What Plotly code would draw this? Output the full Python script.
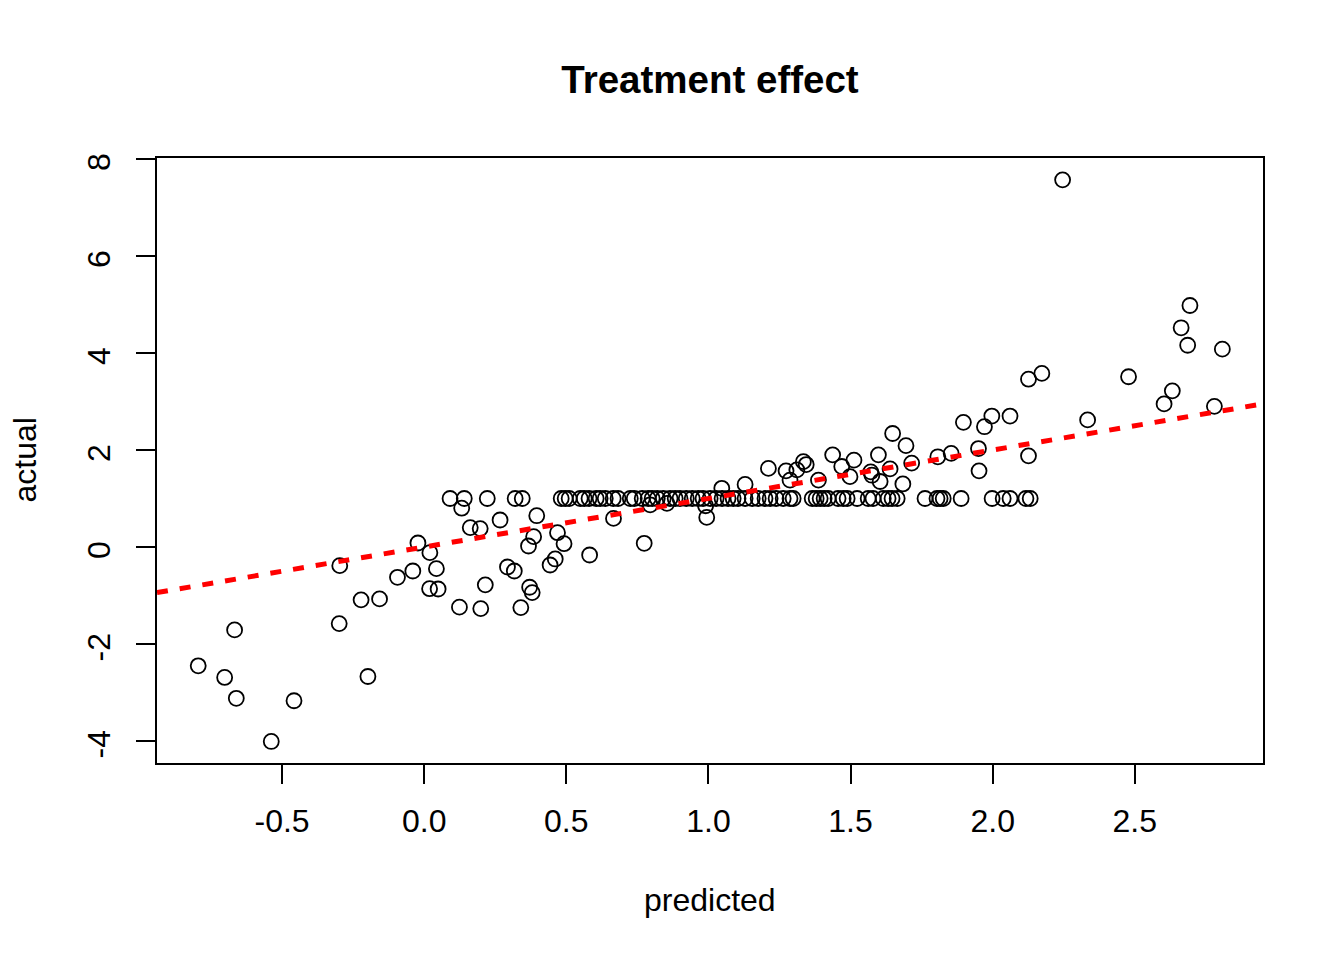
import plotly.graph_objects as go

# Predicted / actual values
predicted = [
    -0.795, -0.667, -0.702, -0.661, -0.538, -0.458, -0.297, -0.299, -0.198, -0.222,
    -0.157, -0.094, -0.040, -0.022, 0.020, 0.043, 0.019, 0.049, 0.132, 0.124,
    0.162, 0.197, 0.267, 0.396, 0.385, 0.367, 0.469, 0.492, 0.461, 0.443,
    0.582, 0.666, 0.774, 0.293, 0.317, 0.215, 0.371, 0.380, 0.199, 0.340,
    0.795, 0.854, 0.994, 0.990, 1.047, 1.129, 1.211, 1.273, 1.287, 1.311,
    1.334, 1.344, 1.387, 1.437, 1.469, 1.512, 1.498, 1.571, 1.575, 1.598,
    1.604, 1.639, 1.648, 1.695, 1.684, 1.715, 1.897, 1.971, 1.997, 2.061,
    1.807, 1.854, 1.950, 1.952, 2.126, 2.334, 2.246, 2.694, 2.663, 2.686,
    2.808, 2.126, 2.173, 2.478, 2.632, 2.603, 2.780,
    # points sitting on actual = 1
    0.091, 0.141, 0.222, 0.320, 0.345,
    0.482, 0.496, 0.510, 0.549, 0.563, 0.580, 0.605, 0.619, 0.637, 0.665,
    0.682, 0.725, 0.739, 0.767, 0.788, 0.802, 0.820, 0.841, 0.865,
    0.883, 0.900, 0.922, 0.943, 0.964, 0.981, 1.006, 1.027, 1.048, 1.069,
    1.087, 1.104, 1.129, 1.154, 1.175, 1.199, 1.217, 1.238, 1.263, 1.287, 1.298,
    1.365, 1.379, 1.393, 1.407, 1.421, 1.456, 1.474, 1.488, 1.523, 1.562,
    1.579, 1.615, 1.632, 1.646, 1.664,
    1.762, 1.804, 1.815, 1.826, 1.889, 1.998, 2.037, 2.061, 2.117, 2.132,
]
actual = [
    -2.45, -1.71, -2.69, -3.12, -4.01, -3.17, -0.385, -1.58, -2.67, -1.09,
    -1.07, -0.625, -0.495, 0.082, -0.117, -0.447, -0.86, -0.866, 0.80, -1.24,
    0.40, 0.38, 0.557, 0.645, 0.213, 0.02, 0.295, 0.068, -0.247, -0.371,
    -0.165, 0.59, 0.076, -0.412, -0.495, -0.78, -0.83, -0.94, -1.27, -1.25,
    0.87, 0.90, 0.61, 0.85, 1.21, 1.29, 1.62, 1.57, 1.38, 1.59,
    1.76, 1.70, 1.38, 1.90, 1.66, 1.79, 1.45, 1.55, 1.48, 1.90,
    1.35, 1.61, 2.34, 2.09, 1.30, 1.73, 2.57, 2.48, 2.70, 2.70,
    1.86, 1.93, 2.03, 1.57, 1.88, 2.62, 7.57, 4.98, 4.52, 4.16,
    4.08, 3.46, 3.58, 3.51, 3.22, 2.95, 2.90,
    1.0, 1.0, 1.0, 1.0, 1.0,
    1.0, 1.0, 1.0, 1.0, 1.0, 1.0, 1.0, 1.0, 1.0, 1.0,
    1.0, 1.0, 1.0, 1.0, 1.0, 1.0, 1.0, 1.0, 1.0,
    1.0, 1.0, 1.0, 1.0, 1.0, 1.0, 1.0, 1.0, 1.0, 1.0,
    1.0, 1.0, 1.0, 1.0, 1.0, 1.0, 1.0, 1.0, 1.0, 1.0, 1.0,
    1.0, 1.0, 1.0, 1.0, 1.0, 1.0, 1.0, 1.0, 1.0, 1.0,
    1.0, 1.0, 1.0, 1.0, 1.0,
    1.0, 1.0, 1.0, 1.0, 1.0, 1.0, 1.0, 1.0, 1.0, 1.0,
]

x_ticks = [-0.5, 0.0, 0.5, 1.0, 1.5, 2.0, 2.5]
x_tick_labels = ["-0.5", "0.0", "0.5", "1.0", "1.5", "2.0", "2.5"]
y_ticks = [-4, -2, 0, 2, 4, 6, 8]
y_tick_labels = ["-4", "-2", "0", "2", "4", "6", "8"]
x_range = [-0.940, 2.951]
y_range = [-4.454, 8.021]

# reference line y = a + b * x
line_a, line_b = 0.0, 1.0

FONT = "Liberation Sans, Arial, Helvetica, sans-serif"

fig = go.Figure()
fig.add_trace(go.Scatter(
    x=predicted, y=actual, mode="markers",
    marker=dict(symbol="circle-open", size=15, color="black", line=dict(width=1.8, color="black")),
    showlegend=False, hoverinfo="x+y",
))
fig.add_trace(go.Scatter(
    x=x_range, y=[line_a + line_b * v for v in x_range], mode="lines",
    line=dict(color="#ff0000", width=5, dash="11px,12px"),
    showlegend=False, hoverinfo="skip",
))

axis_common = dict(
    showgrid=False, zeroline=False, showline=True, mirror=True,
    linecolor="black", linewidth=2, ticks="outside", ticklen=19,
    tickwidth=2, tickcolor="black",
    tickfont=dict(family=FONT, size=32, color="black"),
)

W, H = 1336, 952

fig.update_layout(
    width=W, height=H,
    margin=dict(l=149, r=81, t=150, b=197, pad=0),
    paper_bgcolor="white", plot_bgcolor="white",
    font=dict(family=FONT, color="black"),
    title=dict(text="<b>Treatment effect</b>", x=0.5, xref="paper",
               y=1 - 72 / H, yref="container", yanchor="middle", xanchor="center",
               font=dict(family=FONT, size=38.5, color="black")),
    xaxis=dict(range=x_range, tickvals=x_ticks, ticktext=x_tick_labels,
               ticklabelstandoff=10, **axis_common),
    yaxis=dict(range=y_range, tickvals=y_ticks, ticktext=y_tick_labels, tickangle=-90,
               ticklabelstandoff=13, ticklabelshift=8, **axis_common),
    annotations=[
        dict(text="predicted", xref="paper", yref="paper", x=0.5, y=0,
             xanchor="center", yanchor="middle", yshift=-137, showarrow=False,
             borderpad=0, font=dict(family=FONT, size=32, color="black")),
        dict(text="actual", xref="paper", yref="paper", x=0, y=0.5,
             xanchor="center", yanchor="middle", xshift=-133, textangle=-90, showarrow=False,
             borderpad=0, font=dict(family=FONT, size=32, color="black")),
    ],
)

fig.write_html("out.html")
